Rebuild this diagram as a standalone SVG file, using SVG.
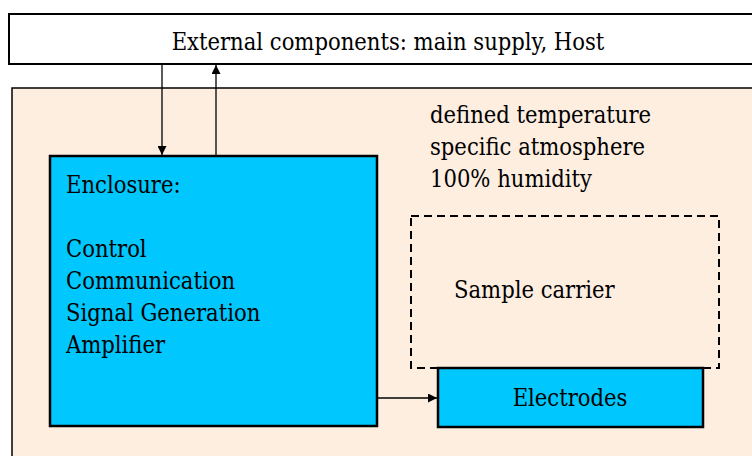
<svg xmlns="http://www.w3.org/2000/svg" width="752" height="456" viewBox="0 0 752 456">
<defs>
<style>
.t{font-family:'DejaVu Serif Condensed','DejaVu Serif',serif;font-stretch:condensed;font-size:23.5px;fill:#000}
.box{stroke:#000;stroke-width:2}
.blue{fill:#00C8FF;stroke:#000;stroke-width:2.5}
.conn{stroke:#000;stroke-width:1.3;fill:none}
</style>
<marker id="ah" viewBox="0 0 10 10" refX="10" refY="5" markerWidth="9" markerHeight="9" markerUnits="userSpaceOnUse" orient="auto">
<path d="M0,0 L10,5 L0,10 Z" fill="#000"/>
</marker>
</defs>
<rect width="752" height="456" fill="#fff"/>
<g id="environment">
<rect x="12" y="88" width="750" height="380" fill="#FDEEE0" stroke="#000" stroke-width="1.5"/>
<text class="t" x="430" y="123">defined temperature</text>
<text class="t" x="430" y="155">specific atmosphere</text>
<text class="t" x="430" y="187">100% humidity</text>
</g>
<g id="external">
<rect x="9" y="14" width="760" height="50" fill="#fff" class="box"/>
<text class="t" x="388" y="50" text-anchor="middle">External components: main supply, Host</text>
</g>
<g id="enclosure">
<rect x="50" y="156" width="327" height="270" class="blue"/>
<text class="t" x="66" y="193">Enclosure:</text>
<text class="t" x="66" y="257">Control</text>
<text class="t" x="66" y="289">Communication</text>
<text class="t" x="66" y="321">Signal Generation</text>
<text class="t" x="66" y="353">Amplifier</text>
</g>
<g id="sample-carrier">
<rect x="411" y="216" width="308" height="152" fill="none" stroke="#000" stroke-width="2" stroke-dasharray="8,5"/>
<text class="t" x="454" y="298">Sample carrier</text>
</g>
<g id="electrodes">
<rect x="438" y="368" width="265" height="59" class="blue"/>
<text class="t" x="570" y="406" text-anchor="middle">Electrodes</text>
</g>
<g id="connectors">
<line x1="162" y1="64" x2="162" y2="155" class="conn" marker-end="url(#ah)"/>
<line x1="216" y1="156" x2="216" y2="65" class="conn" marker-end="url(#ah)"/>
<line x1="377" y1="398" x2="437" y2="398" class="conn" marker-end="url(#ah)"/>
</g>
</svg>
